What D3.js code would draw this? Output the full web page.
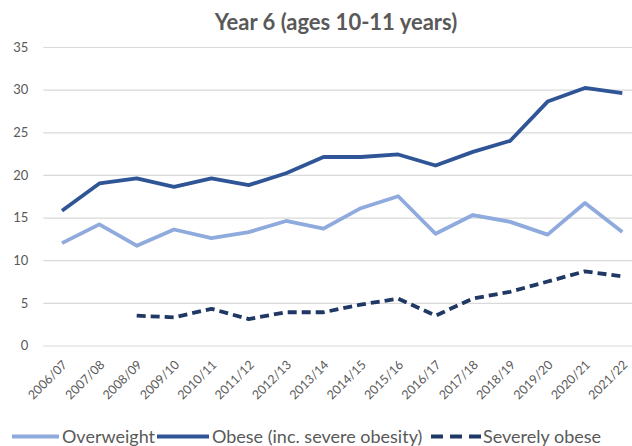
<!DOCTYPE html>
<html>
<head>
<meta charset="utf-8">
<script src="https://cdn.jsdelivr.net/npm/d3@7"></script>
<style>
  body { margin: 0; background: #fff; }
  svg { display: block; font-family: Lato, "Open Sans", sans-serif; }
</style>
</head>
<body>
<script>
// chart data (percent of Year 6 children)
var years = ["2006/07","2007/08","2008/09","2009/10","2010/11","2011/12","2012/13","2013/14",
             "2014/15","2015/16","2016/17","2017/18","2018/19","2019/20","2020/21","2021/22"];
var overweight = [12.0,14.2,11.7,13.6,12.6,13.3,14.6,13.7,16.1,17.5,13.1,15.3,14.5,13.0,16.7,13.3];
var obese = [15.8,19.0,19.6,18.6,19.6,18.8,20.2,22.1,22.1,22.4,21.1,22.7,24.0,28.6,30.2,29.6];
var severelyObese = [null,null,3.5,3.3,4.3,3.1,3.9,3.9,4.8,5.5,3.5,5.5,6.3,7.5,8.7,8.1];
var yTicks = [0,5,10,15,20,25,30,35];

var width = 632, height = 446;

var svg = d3.select("body").append("svg")
    .attr("width", width)
    .attr("height", height);

// scales
var x = d3.scaleBand().domain(years).range([43.3, 641]);
var y = d3.scaleLinear().domain([0, 35]).range([345.5, 47]);
var xc = function(d) { return x(d) + x.bandwidth() / 2; };

// title
svg.append("text")
    .attr("x", 336)
    .attr("y", 30)
    .attr("text-anchor", "middle")
    .style("font-size", "22px")
    .style("font-weight", "bold")
    .style("fill", "#595959")
    .text("Year 6 (ages 10-11 years)");

// gridlines + y labels
var yAxis = svg.append("g")
    .attr("transform", "translate(43.3,0)")
    .call(d3.axisLeft(y).tickValues(yTicks).tickSize(-(641 - 43.3)).tickPadding(15));
yAxis.select(".domain").remove();
yAxis.selectAll(".tick line").attr("stroke", "#d9d9d9").attr("stroke-width", 1.2);
yAxis.selectAll(".tick text")
    .style("font-size", "13px")
    .style("font-family", "Lato, sans-serif")
    .style("fill", "#595959");

// x labels
var xAxis = svg.append("g")
    .attr("transform", "translate(0,345.5)")
    .call(d3.axisBottom(x).tickSize(0).tickPadding(0));
xAxis.select(".domain").remove();
xAxis.selectAll(".tick text")
    .attr("text-anchor", "end")
    .attr("dy", 0)
    .attr("y", 0)
    .attr("transform", "translate(6,20) rotate(-45)")
    .style("font-size", "12.5px")
    .style("font-family", "Lato, sans-serif")
    .style("fill", "#595959");

// series
var series = [
  { name: "Overweight", values: overweight, color: "#8faadc", dash: null },
  { name: "Obese (inc. severe obesity)", values: obese, color: "#2f5597", dash: null },
  { name: "Severely obese", values: severelyObese, color: "#203864", dash: "9,5" }
];

var line = d3.line()
    .defined(function(d) { return d.v != null; })
    .x(function(d) { return xc(d.year); })
    .y(function(d) { return y(d.v); });

svg.selectAll(".series")
    .data(series)
    .enter().append("path")
    .attr("class", "series")
    .attr("fill", "none")
    .attr("stroke", function(d) { return d.color; })
    .attr("stroke-width", 3.8)
    .attr("stroke-linejoin", "round")
    .attr("stroke-dasharray", function(d) { return d.dash; })
    .attr("d", function(d) {
      return line(d.values.map(function(v, i) { return { year: years[i], v: v }; }));
    });

// legend
var legendX = [12, 157, 431];
var legend = svg.selectAll(".legend")
    .data(series)
    .enter().append("g")
    .attr("class", "legend")
    .attr("transform", function(d, i) { return "translate(" + legendX[i] + ",436.5)"; });

legend.append("line")
    .attr("x1", 0).attr("x2", function(d, i) { return i == 2 ? 50 : (i == 1 ? 52 : 47); })
    .attr("y1", 0).attr("y2", 0)
    .attr("stroke", function(d) { return d.color; })
    .attr("stroke-width", 3.8)
    .attr("stroke-dasharray", function(d) { return d.dash ? "12,7" : null; });

legend.append("text")
    .attr("x", function(d, i) { return i == 2 ? 52 : (i == 1 ? 55 : 50); })
    .attr("y", 6.5)
    .style("font-size", "18px")
    .style("fill", "#595959")
    .text(function(d) { return d.name; });
</script>
</body>
</html>
